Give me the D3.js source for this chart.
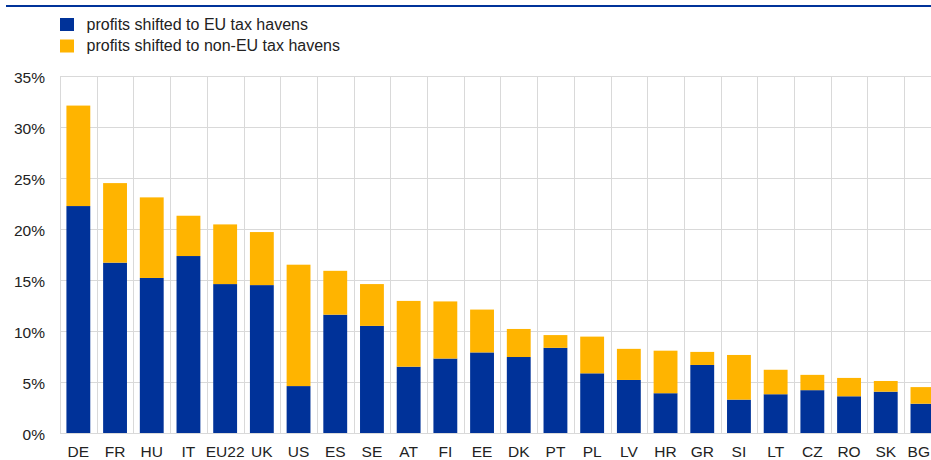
<!DOCTYPE html>
<html><head><meta charset="utf-8">
<script src="https://cdn.jsdelivr.net/npm/d3@7"></script>
<style>body{margin:0;background:#fff;overflow:hidden}svg{display:block;font-family:Arial,"Liberation Sans",sans-serif}</style>
</head><body>
<svg id="c" width="931" height="460"></svg>
<script>
const categories = ["DE","FR","HU","IT","EU22","UK","US","ES","SE","AT","FI","EE","DK","PT","PL","LV","HR","GR","SI","LT","CZ","RO","SK","BG"];
const euHavens = [22.25,16.7,15.2,17.35,14.6,14.5,4.6,11.6,10.5,6.5,7.3,7.9,7.45,8.35,5.85,5.2,3.9,6.67,3.27,3.8,4.2,3.6,4.05,2.87];
const totals = [32.1,24.5,23.1,21.3,20.45,19.7,16.5,15.9,14.6,12.95,12.9,12.1,10.2,9.6,9.45,8.25,8.07,7.95,7.65,6.2,5.7,5.4,5.1,4.5];
const nonEuHavens = totals.map((t,i)=>+(t-euHavens[i]).toFixed(2));
const seriesNames = ["profits shifted to EU tax havens","profits shifted to non-EU tax havens"];
const seriesColors = ["#003299","#FFB400"];
const yTicks = [0,5,10,15,20,25,30,35];

(function(){
const svg = d3.select("#c");
const mLeft = 60, mTop = 76, mBottom = 433;
const band = 36.7;
const x = d3.scaleBand().domain(categories).range([mLeft, mLeft + band*categories.length]).paddingInner(0.35).paddingOuter(0.175);
const y = d3.scaleLinear().domain([0,35]).range([mBottom, mTop]);
const font = "Arial, 'Liberation Sans', sans-serif";

// top rule
svg.append("line").attr("x1",6).attr("x2",931).attr("y1",6).attr("y2",6).attr("stroke","#003299").attr("stroke-width",2);

// horizontal grid
svg.append("g").selectAll("line").data(yTicks).join("line")
  .attr("x1",mLeft).attr("x2",931).attr("y1",d=>Math.round(y(d))+0.5).attr("y2",d=>Math.round(y(d))+0.5)
  .attr("stroke","#d9d9d9").attr("stroke-width",1);
// vertical grid (band edges)
const edges = d3.range(categories.length+1).map(i=>mLeft + i*band);
svg.append("g").selectAll("line").data(edges).join("line")
  .attr("x1",d=>Math.round(d)+0.5).attr("x2",d=>Math.round(d)+0.5).attr("y1",mTop).attr("y2",mBottom)
  .attr("stroke","#d9d9d9").attr("stroke-width",1);

// stacked bars
const data = categories.map((c,i)=>({cat:c, eu:euHavens[i], non:nonEuHavens[i]}));
const stack = d3.stack().keys(["eu","non"])(data);
svg.append("g").selectAll("g").data(stack).join("g").attr("fill",(d,i)=>seriesColors[i])
  .selectAll("rect").data(d=>d).join("rect")
  .attr("x",d=>x(d.data.cat)).attr("width",x.bandwidth())
  .attr("y",d=>y(d[1])).attr("height",d=>y(d[0])-y(d[1]));

// y axis
const yAxis = d3.axisLeft(y).tickValues(yTicks).tickFormat(d=>d+"%").tickSize(0).tickPadding(15);
const ya = svg.append("g").attr("transform",`translate(${mLeft},0)`).call(yAxis);
ya.select(".domain").remove();
ya.selectAll("text").attr("font-size",15.5).attr("fill","#222").attr("font-family",font).attr("dy","0.4em");

// x axis
const xAxis = d3.axisBottom(x).tickSize(0).tickPadding(13);
const xa = svg.append("g").attr("transform",`translate(0,${mBottom})`).call(xAxis);
xa.select(".domain").attr("stroke","#d9d9d9");
xa.selectAll("text").attr("font-size",15.5).attr("fill","#222").attr("font-family",font);
// keep last label inside the canvas
xa.selectAll(".tick").filter(d=>d===categories[categories.length-1]).select("text")
  .attr("text-anchor","end").attr("x", function(){ const t=d3.select(this.parentNode).attr("transform"); const tx=+t.match(/translate\(([-\d.]+)/)[1]; return Math.min(11, 930-tx); });

// legend
const lg = svg.append("g").selectAll("g").data(seriesNames).join("g")
  .attr("transform",(d,i)=>`translate(60,${18+i*21.5})`);
lg.append("rect").attr("width",14).attr("height",13).attr("fill",(d,i)=>seriesColors[i]);
lg.append("text").attr("x",26.5).attr("y",11.7).attr("font-size",16).attr("fill","#222").attr("font-family",font).text(d=>d);
})();
</script>
</body></html>
